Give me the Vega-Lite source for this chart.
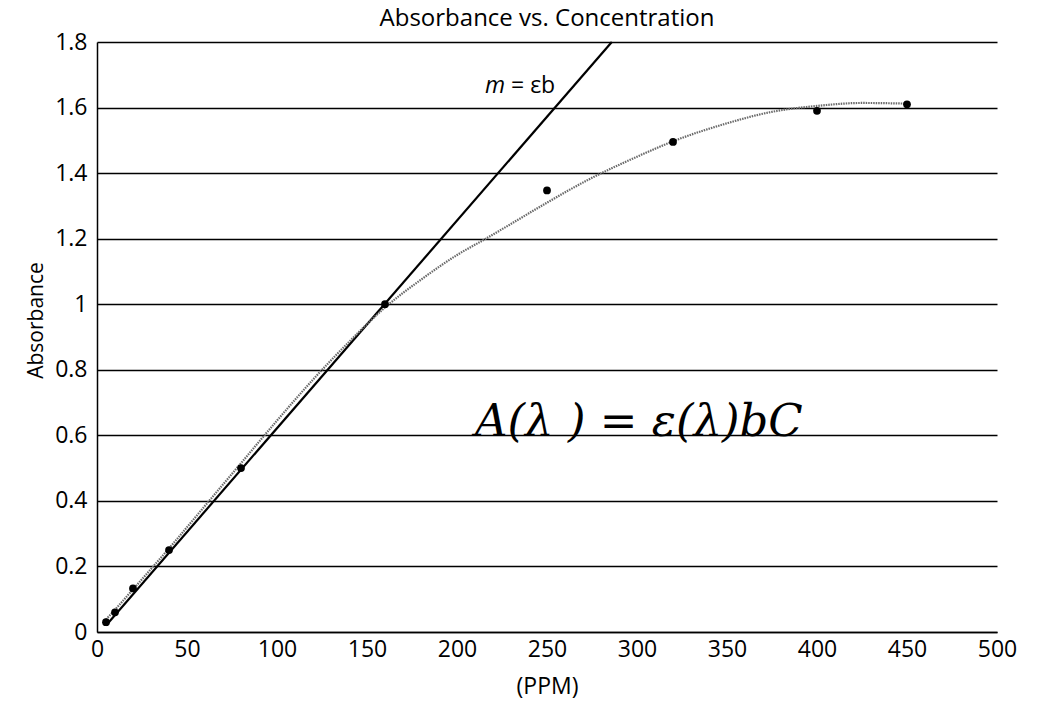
{
  "$schema": "https://vega.github.io/schema/vega-lite/v6.json",
  "width": 900,
  "height": 590,
  "autosize": {"type": "none"},
  "padding": {"left": 97, "top": 42, "right": 40, "bottom": 70},
  "background": "white",
  "title": {"text": "Absorbance vs. Concentration", "fontSize": 24, "fontWeight": "normal", "font": "Open Sans", "color": "black", "anchor": "middle", "offset": 0},
  "datasets": {
    "points": [
      {"ppm": 5, "abs": 0.03},
      {"ppm": 10, "abs": 0.06},
      {"ppm": 20, "abs": 0.133},
      {"ppm": 40, "abs": 0.25},
      {"ppm": 80, "abs": 0.5},
      {"ppm": 160, "abs": 1.0},
      {"ppm": 250, "abs": 1.347},
      {"ppm": 320, "abs": 1.495},
      {"ppm": 400, "abs": 1.59},
      {"ppm": 450, "abs": 1.61}
    ],
    "trend": [
      {"ppm": 5, "abs": 0.038},
      {"ppm": 10, "abs": 0.068},
      {"ppm": 20, "abs": 0.13},
      {"ppm": 40, "abs": 0.255},
      {"ppm": 60, "abs": 0.385},
      {"ppm": 80, "abs": 0.515},
      {"ppm": 100, "abs": 0.645},
      {"ppm": 120, "abs": 0.77},
      {"ppm": 140, "abs": 0.885},
      {"ppm": 160, "abs": 0.99},
      {"ppm": 180, "abs": 1.075},
      {"ppm": 200, "abs": 1.15},
      {"ppm": 216, "abs": 1.2},
      {"ppm": 230, "abs": 1.245},
      {"ppm": 250, "abs": 1.31},
      {"ppm": 273, "abs": 1.38},
      {"ppm": 300, "abs": 1.45},
      {"ppm": 320, "abs": 1.497},
      {"ppm": 350, "abs": 1.552},
      {"ppm": 375, "abs": 1.587},
      {"ppm": 400, "abs": 1.605},
      {"ppm": 425, "abs": 1.614},
      {"ppm": 450, "abs": 1.612}
    ],
    "fit": [
      {"ppm": 5, "abs": 0.02},
      {"ppm": 286, "abs": 1.8}
    ],
    "eq": [
      {"ppm": 210, "abs": 0.597, "label": "A(λ ) =  ε(λ)bC"}
    ],
    "m": [
      {"ppm": 215.6, "abs": 1.645, "label": "m"}
    ],
    "meq": [
      {"ppm": 230, "abs": 1.645, "label": "= εb"}
    ]
  },
  "layer": [
    {
      "data": {"name": "fit"},
      "mark": {"type": "line", "color": "black", "strokeWidth": 2.2},
      "encoding": {
        "x": {"field": "ppm", "type": "quantitative", "scale": {"domain": [0, 500], "nice": false},
              "axis": {"title": "(PPM)", "values": [0, 50, 100, 150, 200, 250, 300, 350, 400, 450, 500], "grid": false, "ticks": false, "domain": true, "labelFlush": false, "labelPadding": 6, "titlePadding": 14, "titleFontSize": 23}},
        "y": {"field": "abs", "type": "quantitative", "scale": {"domain": [0, 1.8], "nice": false},
              "axis": {"title": "Absorbance", "values": [0, 0.2, 0.4, 0.6, 0.8, 1, 1.2, 1.4, 1.6, 1.8], "labelExpr": "'' + datum.value", "labelFlush": false, "grid": true, "ticks": false, "domain": true, "labelPadding": 10, "titlePadding": 8, "titleFontSize": 21, "titleY": 278}}
      }
    },
    {
      "data": {"name": "trend"},
      "mark": {"type": "line", "color": "#6a6a6a", "strokeWidth": 2.2, "strokeDash": [1.5, 1], "interpolate": "monotone"},
      "encoding": {
        "x": {"field": "ppm", "type": "quantitative"},
        "y": {"field": "abs", "type": "quantitative"}
      }
    },
    {
      "data": {"name": "points"},
      "mark": {"type": "circle", "color": "black", "opacity": 1, "size": 60},
      "encoding": {
        "x": {"field": "ppm", "type": "quantitative"},
        "y": {"field": "abs", "type": "quantitative"}
      }
    },
    {
      "data": {"name": "eq"},
      "mark": {"type": "text", "font": "DejaVu Serif", "fontStyle": "italic", "fontSize": 45, "align": "left", "baseline": "alphabetic", "color": "black"},
      "encoding": {
        "x": {"field": "ppm", "type": "quantitative"},
        "y": {"field": "abs", "type": "quantitative"},
        "text": {"field": "label"}
      }
    },
    {
      "data": {"name": "m"},
      "mark": {"type": "text", "font": "Open Sans", "fontStyle": "italic", "fontSize": 23, "align": "left", "baseline": "alphabetic", "color": "black"},
      "encoding": {
        "x": {"field": "ppm", "type": "quantitative"},
        "y": {"field": "abs", "type": "quantitative"},
        "text": {"field": "label"}
      }
    },
    {
      "data": {"name": "meq"},
      "mark": {"type": "text", "font": "Open Sans", "fontSize": 23, "align": "left", "baseline": "alphabetic", "color": "black"},
      "encoding": {
        "x": {"field": "ppm", "type": "quantitative"},
        "y": {"field": "abs", "type": "quantitative"},
        "text": {"field": "label"}
      }
    }
  ],
  "config": {
    "view": {"stroke": null},
    "font": "Open Sans",
    "axis": {
      "labelFont": "Open Sans", "labelFontSize": 23, "labelColor": "black",
      "titleFont": "Open Sans", "titleFontWeight": "normal", "titleColor": "black",
      "domainColor": "black", "domainWidth": 1.5,
      "gridColor": "black", "gridWidth": 1.4, "gridOpacity": 1
    }
  }
}
